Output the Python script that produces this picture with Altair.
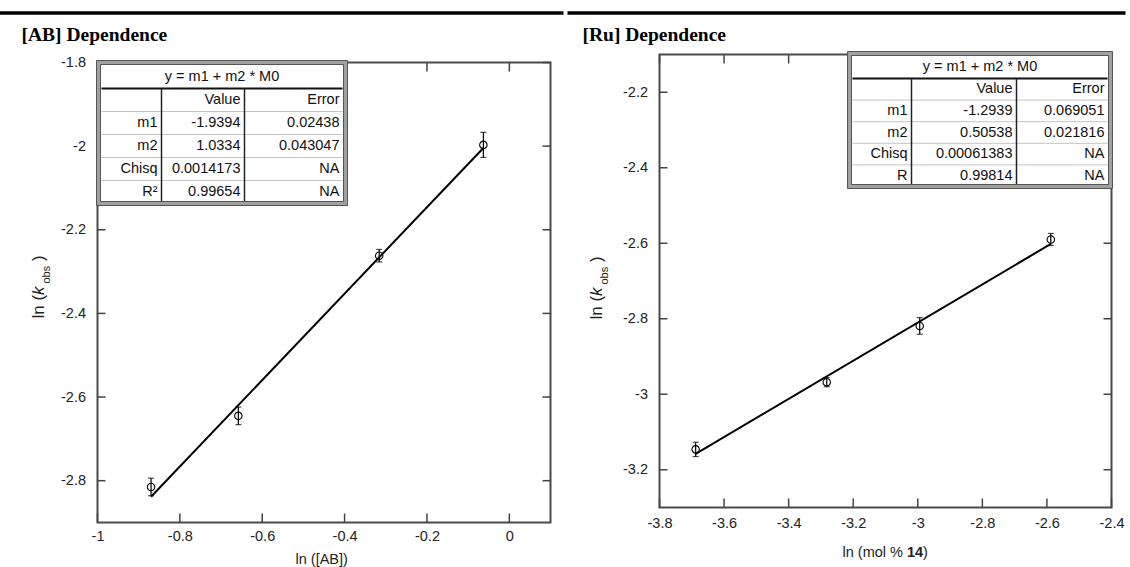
import altair as alt
import pandas as pd

FONT = "Liberation Sans"
SERIF = "Liberation Serif"

# ---------------- data ----------------
fit_equation = "y = m1 + m2 * M0"
col_headers = ["", "Value", "Error"]

ab_title = "[AB] Dependence"
ab_x = [-0.870, -0.658, -0.316, -0.063]
ab_y = [-2.815, -2.645, -2.262, -1.997]
ab_err = [0.021, 0.021, 0.015, 0.030]
ab_m1, ab_m2 = -1.9394, 1.0334
ab_xticks = [-1, -0.8, -0.6, -0.4, -0.2, 0]
ab_yticks = [-2.8, -2.6, -2.4, -2.2, -2, -1.8]
ab_row_names = ["m1", "m2", "Chisq", "R²"]
ab_values = ["-1.9394", "1.0334", "0.0014173", "0.99654"]
ab_errors = ["0.02438", "0.043047", "NA", "NA"]
ab_xlabel = [("ln ([AB])", "normal")]

ru_title = "[Ru] Dependence"
ru_x = [-3.688, -3.282, -2.994, -2.588]
ru_y = [-3.146, -2.968, -2.819, -2.590]
ru_err = [0.019, 0.012, 0.022, 0.016]
ru_m1, ru_m2 = -1.2939, 0.50538
ru_xticks = [-3.8, -3.6, -3.4, -3.2, -3, -2.8, -2.6, -2.4]
ru_yticks = [-3.2, -3, -2.8, -2.6, -2.4, -2.2]
ru_row_names = ["m1", "m2", "Chisq", "R"]
ru_values = ["-1.2939", "0.50538", "0.00061383", "0.99814"]
ru_errors = ["0.069051", "0.021816", "NA", "NA"]
ru_xlabel = [("ln (mol % ", "normal"), ("14", "bold"), (")", "normal")]

ylabel_parts = ["ln (", "k", "obs", ")"]

# ---------------- layout (pixels, relative to each plot area's top-left) ----------------
geo_ab = dict(W=453, H=460, oy=0, xdom=[-1, 0.1], ydom=[-2.9, -1.8], xpad=7,
              table=(1, 248, 0, 26, 23, 64, 147),
              title_xy=(-76, -22), rule=(-99, 466, -49.5),
              ytitle_xy=(-54, 256), xtitle_xy=(198, 497),
              xtitle_dx=[0])
geo_ru = dict(W=452, H=453, oy=-8, xdom=[-3.8, -2.4], ydom=[-3.3, -2.1], xpad=9,
              table=(190, 451, -1, 24, 21.6, 252, 357),
              title_xy=(-77, -14), rule=(-92, 466, -41.5),
              ytitle_xy=(-58, 265), xtitle_xy=(183, 498),
              xtitle_dx=[0, 64.5, 80.6])

ONE = pd.DataFrame({"a": [0]})


def panel(title, xs, ys, errs, m1, m2, xticks, yticks, names, values, errors,
          xlabel, g):
    W, H, oy = g["W"], g["H"], g["oy"]
    T, B = oy, H + oy  # top and bottom of the plot frame in group pixels
    xd, yd = g["xdom"], g["ydom"]

    def px(p):
        return xd[0] + p / W * (xd[1] - xd[0])

    def py(p):
        return yd[1] - p / H * (yd[1] - yd[0])

    sx = alt.Scale(domain=xd, nice=False, zero=False)
    sy = alt.Scale(domain=yd, range=[B, T], nice=False, zero=False)
    common = dict(ticks=False, tickSize=0, domain=False, grid=False, title=None,
                  labelFont=FONT, labelFontSize=14.5, labelColor="#222",
                  labelFlush=False, labelOverlap=False,
                  labelExpr="'' + datum.value")
    ax_x = alt.Axis(values=xticks, labelPadding=g["xpad"], **common)
    ax_y = alt.Axis(values=yticks, labelPadding=12, **common)

    def X(f):
        return alt.X(f, type="quantitative", scale=sx, axis=ax_x)

    def Y(f):
        return alt.Y(f, type="quantitative", scale=sy, axis=ax_y)

    layers = []
    # plot frame
    layers.append(alt.Chart(ONE).mark_rect(fillOpacity=0, stroke="#4a4a4a",
                                           strokeWidth=2).encode(
        x=alt.value(0), x2=alt.value(W), y=alt.value(T), y2=alt.value(B)))
    # inward ticks on all four sides
    dxt = pd.DataFrame({"x": xticks})
    dyt = pd.DataFrame({"y": yticks})
    tk = dict(color="#444", strokeWidth=1.5)
    layers.append(alt.Chart(dxt).mark_rule(**tk).encode(
        x=X("x"), y=alt.value(B), y2=alt.value(B - 9)))
    layers.append(alt.Chart(dxt).mark_rule(**tk).encode(
        x=X("x"), y=alt.value(T), y2=alt.value(T + 9)))
    layers.append(alt.Chart(dyt).mark_rule(**tk).encode(
        y=Y("y"), x=alt.value(0), x2=alt.value(8)))
    layers.append(alt.Chart(dyt).mark_rule(**tk).encode(
        y=Y("y"), x=alt.value(W), x2=alt.value(W - 8)))

    # fit line
    fx = [min(xs), max(xs)]
    dfit = pd.DataFrame({"x": fx, "y": [m1 + m2 * v for v in fx]})
    layers.append(alt.Chart(dfit).mark_line(color="black", strokeWidth=2).encode(
        x=X("x"), y=Y("y")))

    # error bars and points
    dp = pd.DataFrame({"x": xs, "y": ys,
                       "lo": [a - e for a, e in zip(ys, errs)],
                       "hi": [a + e for a, e in zip(ys, errs)]})
    layers.append(alt.Chart(dp).mark_rule(color="black", strokeWidth=1.2).encode(
        x=X("x"), y=Y("lo"), y2=alt.Y2("hi")))
    for f in ["lo", "hi"]:
        layers.append(alt.Chart(dp).mark_tick(orient="horizontal", size=6,
                                              thickness=1.2, color="black").encode(
            x=X("x"), y=Y(f)))
    layers.append(alt.Chart(dp).mark_point(shape="circle", filled=False, size=55,
                                           color="black", strokeWidth=1.1,
                                           opacity=1).encode(x=X("x"), y=Y("y")))

    # fit table
    x0, x1, y0, yt, rh, c1, c2 = g["table"]
    y1 = yt + 5 * rh

    def rect(ins):
        return pd.DataFrame({"x": [px(x0 + ins)], "x2": [px(x1 - ins)],
                             "y": [py(y0 + ins)], "y2": [py(y1 - ins)]})

    layers.append(alt.Chart(rect(0)).mark_rect(fill="white", stroke="#a0a0a0",
                                               strokeWidth=4.5).encode(
        x=X("x"), x2=alt.X2("x2"), y=Y("y"), y2=alt.Y2("y2")))
    for ins in [-2, 2]:
        layers.append(alt.Chart(rect(ins)).mark_rect(fillOpacity=0, stroke="#555",
                                                     strokeWidth=1).encode(
            x=X("x"), x2=alt.X2("x2"), y=Y("y"), y2=alt.Y2("y2")))
    rows = pd.DataFrame({"x": [px(x0 + 3)] * 4, "x2": [px(x1 - 3)] * 4,
                         "y": [py(yt + i * rh) for i in range(1, 5)]})
    layers.append(alt.Chart(rows).mark_rule(color="#c4c4c4", strokeWidth=1).encode(
        x=X("x"), x2=alt.X2("x2"), y=Y("y")))
    tsep = pd.DataFrame({"x": [px(x0 + 3)], "x2": [px(x1 - 3)], "y": [py(yt)]})
    layers.append(alt.Chart(tsep).mark_rule(color="#111", strokeWidth=2).encode(
        x=X("x"), x2=alt.X2("x2"), y=Y("y")))
    csep = pd.DataFrame({"x": [px(c1), px(c2)], "y": [py(yt)] * 2,
                         "y2": [py(y1 - 2.5)] * 2})
    layers.append(alt.Chart(csep).mark_rule(color="#222", strokeWidth=1.5).encode(
        x=X("x"), y=Y("y"), y2=alt.Y2("y2")))

    cells_t, cells_x, cells_y = [], [], []
    table_rows = [col_headers] + [[n, v, e] for n, v, e in zip(names, values, errors)]
    for i, r in enumerate(table_rows):
        yc = py(yt + (i + 0.5) * rh)
        for t, xr in zip(r, [c1 - 4, c2 - 4, x1 - 6]):
            if t:
                cells_t.append(t)
                cells_x.append(px(xr))
                cells_y.append(yc)
    dcell = pd.DataFrame({"x": cells_x, "y": cells_y, "t": cells_t})
    layers.append(alt.Chart(dcell).mark_text(align="right", baseline="middle",
                                             font=FONT, fontSize=14.5,
                                             color="#111").encode(
        x=X("x"), y=Y("y"), text="t:N"))
    dtt = pd.DataFrame({"x": [px((x0 + x1) / 2)], "y": [py((y0 + yt) / 2 + 1)],
                        "t": [fit_equation]})
    layers.append(alt.Chart(dtt).mark_text(align="center", baseline="middle",
                                           font=FONT, fontSize=14.5,
                                           color="#111").encode(
        x=X("x"), y=Y("y"), text="t:N"))

    # panel title and thick top rule
    tx, ty = g["title_xy"]
    layers.append(alt.Chart(ONE).mark_text(text=title, font=SERIF, fontWeight="bold",
                                           fontSize=19.5, align="left",
                                           baseline="alphabetic",
                                           color="black").encode(
        x=alt.value(tx), y=alt.value(ty + oy)))
    ra, rb, ry = g["rule"]
    layers.append(alt.Chart(ONE).mark_rule(color="black", strokeWidth=3.5).encode(
        x=alt.value(ra), x2=alt.value(rb), y=alt.value(ry + oy)))

    # y axis title: ln (k_obs)
    yx, yy = g["ytitle_xy"]
    parts = [(ylabel_parts[0], 0, 0, 17, "normal"),
             (ylabel_parts[1], 23.6, 0, 17, "italic"),
             (ylabel_parts[2], 35, 6, 11, "normal"),
             (ylabel_parts[3], 57.5, 0, 17, "normal")]
    for t, dx, dy, fs, st in parts:
        layers.append(alt.Chart(ONE).mark_text(text=t, angle=270, align="left",
                                               baseline="alphabetic", dx=dx, dy=dy,
                                               font=FONT, fontSize=fs, fontStyle=st,
                                               color="#222").encode(
            x=alt.value(yx), y=alt.value(yy + oy)))

    # x axis title
    xx, xy = g["xtitle_xy"]
    for (t, wt), dx in zip(xlabel, g["xtitle_dx"]):
        layers.append(alt.Chart(ONE).mark_text(text=t, align="left", baseline="middle",
                                               dx=dx, font=FONT, fontSize=14.5,
                                               fontWeight=wt, color="#222").encode(
            x=alt.value(xx), y=alt.value(xy + oy)))

    return alt.layer(*layers).properties(width=W, height=B)


left = panel(ab_title, ab_x, ab_y, ab_err, ab_m1, ab_m2, ab_xticks, ab_yticks,
             ab_row_names, ab_values, ab_errors, ab_xlabel, geo_ab)
right = panel(ru_title, ru_x, ru_y, ru_err, ru_m1, ru_m2, ru_xticks, ru_yticks,
              ru_row_names, ru_values, ru_errors, ru_xlabel, geo_ru)

chart = alt.hconcat(left, right, spacing=0, bounds="full").properties(
    padding={"left": -3.5, "top": 10.5, "right": 0, "bottom": 0},
    background="white",
).configure_view(strokeWidth=0)

chart.save("out.html", embed_options={"renderer": "svg", "actions": False})
